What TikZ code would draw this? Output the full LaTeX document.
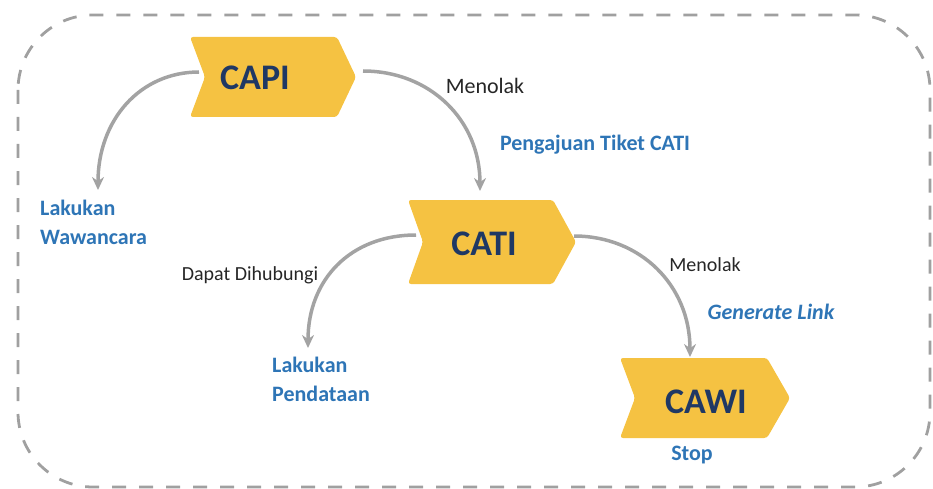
\documentclass[tikz,border=0pt]{standalone}
\usepackage{fontspec}
\setmainfont{Carlito}
\usetikzlibrary{arrows.meta}
\definecolor{chevyellow}{HTML}{F5C242}
\definecolor{navy}{HTML}{1F3864}
\definecolor{lblue}{HTML}{2E75B6}
\definecolor{arrgray}{HTML}{A3A3A3}
\definecolor{boxgray}{HTML}{A0A0A0}
\tikzset{
  chev/.style={fill=chevyellow, rounded corners=3pt},
  chevtext/.style={text=navy, font=\fontsize{36}{40}\selectfont\bfseries, inner sep=0pt},
  flow/.style={draw=arrgray, line width=3.5pt, -{Stealth[length=13pt,width=12pt]}},
  bluelbl/.style={text=lblue, font=\fontsize{22}{29}\selectfont\bfseries, inner sep=0pt, align=left},
  blacklbl/.style={text=black!85, font=\fontsize{20}{24}\selectfont, inner sep=0pt},
  framebox/.style={draw=boxgray, line width=2.8pt, dash pattern=on 14pt off 13pt, rounded corners=75pt}
}
\begin{document}
\begin{tikzpicture}[x=1pt,y=-1pt]
\useasboundingbox (0,0) rectangle (933,489);
\draw[framebox] (18,15) rectangle (930,487);

% anchor coordinates
\coordinate (capiW) at (199,72);
\coordinate (capiE) at (363,71);
\coordinate (catiN) at (480,191);
\coordinate (catiW) at (416,235);
\coordinate (catiE) at (574,236);
\coordinate (cawiN) at (690,357);
\coordinate (wawN) at (98,190);
\coordinate (pendN) at (308,348);

% connectors (behind chevrons)
\draw[flow] (capiW) .. controls (140,72) and (98,120) .. (wawN);
\draw[flow] (capiE) .. controls (430,71) and (480,120) .. (catiN);
\draw[flow] (catiW) .. controls (350,235) and (308,280) .. (pendN);
\draw[flow] (catiE) .. controls (640,236) and (690,285) .. (cawiN);

% chevrons
\fill[chev] (190,37) -- (337,37) -- (356,77) -- (337,117) -- (190,117) -- (205,77) -- cycle;
\fill[chev] (408,200) -- (553,200) -- (576,242) -- (553,284) -- (408,284) -- (423,242) -- cycle;
\fill[chev] (620,358) -- (767,358) -- (790,398) -- (767,438) -- (620,438) -- (635,398) -- cycle;

\node[chevtext] (capi) at (255,78) {CAPI};
\node[chevtext] (cati) at (484,244) {CATI};
\node[chevtext] (cawi) at (706,402) {CAWI};

% labels
\node[blacklbl, font=\fontsize{22}{26}\selectfont] (menolak1) at (485,86) {Menolak};
\node[bluelbl] (tiket) at (595,145) {Pengajuan Tiket CATI};
\node[bluelbl, anchor=west] (waw) at (40,222) {Lakukan\\Wawancara};
\node[blacklbl] (dapat) at (250,275) {Dapat Dihubungi};
\node[blacklbl] (menolak2) at (705,265) {Menolak};
\node[bluelbl, font=\fontsize{22}{25}\selectfont\bfseries\itshape] (gen) at (771,312) {Generate Link};
\node[bluelbl, anchor=west] (pend) at (272,379) {Lakukan\\Pendataan};
\node[bluelbl] (stop) at (692,455) {Stop};
\end{tikzpicture}
\end{document}
